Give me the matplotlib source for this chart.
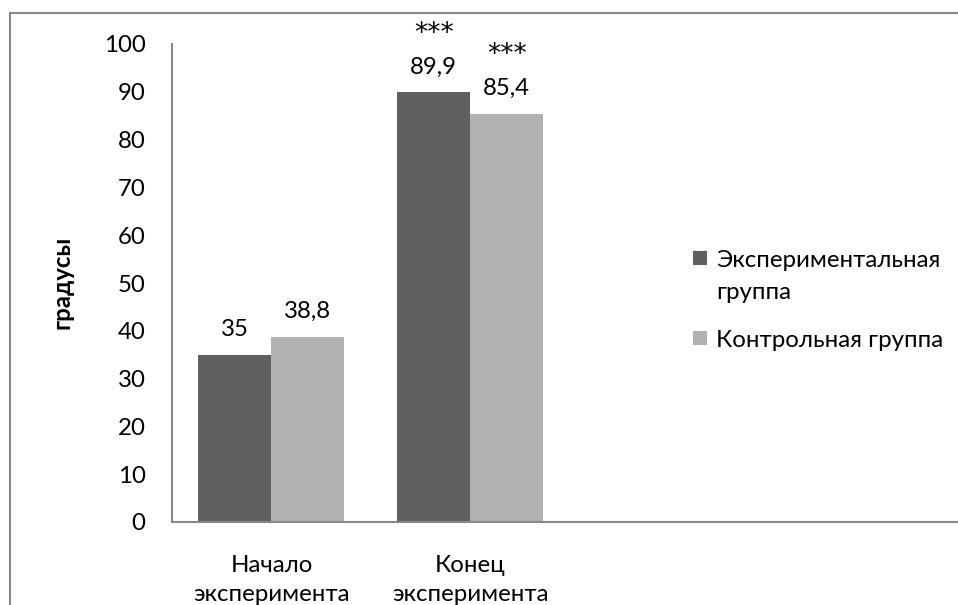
import matplotlib
matplotlib.use('Agg')
import matplotlib.pyplot as plt
import numpy as np
from matplotlib.patches import Rectangle

plt.rcParams['font.family'] = ['Lato', 'DejaVu Sans']

categories = ['Начало\nэксперимента', 'Конец\nэксперимента']
series_names = ['Экспериментальная\nгруппа', 'Контрольная группа']
exp_values = [35, 89.9]
ctrl_values = [38.8, 85.4]
exp_marks = ['', '***']
ctrl_marks = ['', '***']
y_ticks = list(range(0, 101, 10))

_DARK = '#606060'
_LIGHT = '#b2b2b2'
_LINE = '#888888'
_FS = 17.3


def _fmt(v):
    return f'{v:g}'.replace('.', ',')


fig = plt.figure(figsize=(9.58, 6.05), dpi=100)
fig.patch.set_facecolor('white')
fig.add_artist(Rectangle((10 / 958, -0.1), 1.2, 1 - 13 / 605 + 0.1, transform=fig.transFigure,
                         fill=False, edgecolor=_LINE, linewidth=1.5))

ax = fig.add_axes([172 / 958, 1 - 522 / 605, 1 - 172 / 958, (522 - 44) / 605])

x = np.arange(len(categories))
w = 0.367
colors = [_DARK, _LIGHT]
b1 = ax.bar(x - w / 2, exp_values, w, color=colors[0], label=series_names[0])
b2 = ax.bar(x + w / 2, ctrl_values, w, color=colors[1], label=series_names[1])

for bars, vals, marks in ((b1, exp_values, exp_marks), (b2, ctrl_values, ctrl_marks)):
    for rect, v, m in zip(bars, vals, marks):
        cx = rect.get_x() + rect.get_width() / 2
        ax.annotate(_fmt(v), (cx, v), xytext=(0, 18), textcoords='offset points',
                    ha='center', va='center', fontsize=_FS)
        if m:
            ax.annotate(m, (cx, v), xytext=(0, 42), textcoords='offset points',
                        ha='center', va='center', fontsize=19, family=['DejaVu Sans'])

ax.set_xlim(-0.5, 3.452)
ax.set_ylim(0, 100)
ax.set_yticks(y_ticks)
ax.set_yticklabels([str(t) for t in y_ticks], fontsize=_FS)
ax.set_xticks(x)
ax.set_xticklabels(categories, fontsize=_FS, linespacing=1.45)
ax.tick_params(axis='y', length=0, pad=19)
ax.tick_params(axis='x', length=0, pad=24)

for s in ('top', 'right'):
    ax.spines[s].set_visible(False)
for s in ('left', 'bottom'):
    ax.spines[s].set_color(_LINE)
    ax.spines[s].set_linewidth(1.5)

fig.text(62 / 958, 1 - 282 / 605, 'градусы', rotation=90, ha='center', va='center',
         fontsize=_FS, fontweight='bold')

# legend drawn by hand so the square sits on the first line of a wrapped label
legend_rows = [258, 338]
for name, col, ry in zip(series_names, colors, legend_rows):
    fig.add_artist(Rectangle((693 / 958, 1 - (ry + 7) / 605), 14 / 958, 14 / 605,
                             transform=fig.transFigure, facecolor=col, edgecolor='none'))
    fig.text(716 / 958, 1 - (ry - 8) / 605, name, ha='left', va='top',
             fontsize=_FS, linespacing=1.65)

fig.savefig('out.png', dpi=100, facecolor='white')
